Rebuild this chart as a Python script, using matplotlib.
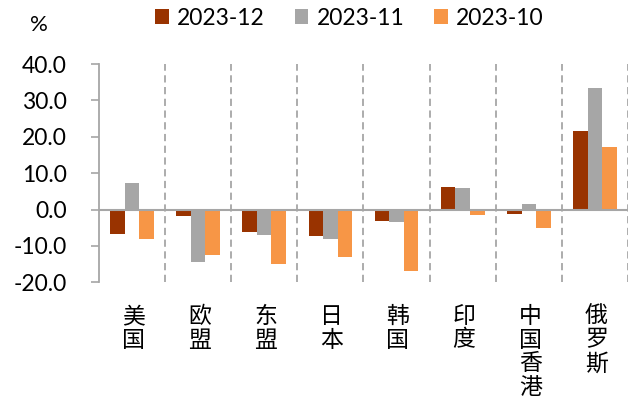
import matplotlib.pyplot as plt
import numpy as np

plt.rcParams['font.family'] = ['Lato', 'DejaVu Sans']

categories = ["美国", "欧盟", "东盟", "日本", "韩国", "印度", "中国香港", "俄罗斯"]
series_names = ["2023-12", "2023-11", "2023-10"]
dec_2023 = [-6.8, -1.8, -6.1, -7.3, -3.1, 6.3, -1.1, 21.6]
nov_2023 = [7.3, -14.3, -7.0, -8.2, -3.5, 5.8, 1.4, 33.4]
oct_2023 = [-8.2, -12.5, -15.1, -13.0, -16.9, -1.6, -5.2, 17.3]
colors = ["#993300", "#A6A6A6", "#F79646"]
yticks = [-20, -10, 0, 10, 20, 30, 40]

fig = plt.figure(figsize=(6.41, 4.03), dpi=100)
ax = fig.add_axes([0.154, 0.2995, 0.826, 0.5415])

x = np.arange(len(categories))
w = 0.22
for i, (vals, name) in enumerate(zip([dec_2023, nov_2023, oct_2023], series_names)):
    ax.bar(x + (i - 1) * w, vals, width=w, color=colors[i], label=name, zorder=3)

# dashed separators between categories
for b in np.arange(0.5, len(categories), 1.0):
    ax.axvline(b, color="#A6A6A6", lw=1.3, ls=(0, (4, 2.5)), zorder=1)

ax.axhline(0, color="#A6A6A6", lw=1.5, zorder=4)

ax.set_xlim(-0.5, len(categories) - 0.5)
ax.set_ylim(-20, 40)
ax.set_yticks(yticks)
ax.set_yticklabels([f"{v:.1f}" for v in yticks], fontsize=16.5)
ax.tick_params(axis="y", direction="out", length=6, color="#A6A6A6", width=1.2, pad=17)
ax.set_xticks([])

for s in ["top", "right", "bottom"]:
    ax.spines[s].set_visible(False)
ax.spines["left"].set_color("#A6A6A6")
ax.spines["left"].set_linewidth(1.3)

# vertical category labels
for xi, cat in zip(x, categories):
    ax.text(xi + 0.02, -26.2, "\n".join(cat), ha="center", va="top",
            fontsize=16.5, family=["Noto Sans CJK SC"], linespacing=1.04)

fig.text(0.047, 0.938, "%", fontsize=16, ha="left", va="center")

fig.legend(loc="center", bbox_to_anchor=(0.545, 0.955), ncol=3, frameon=False,
           fontsize=16.5, handlelength=0.6, handleheight=0.6, handletextpad=0.35,
           columnspacing=1.3)

fig.savefig("out.png", dpi=100)
